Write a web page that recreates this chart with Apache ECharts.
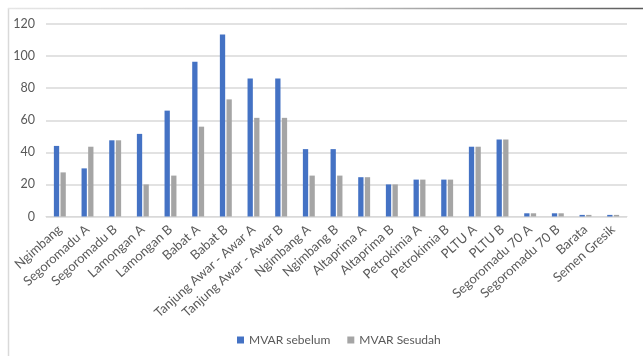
<!DOCTYPE html>
<html>
<head>
<meta charset="utf-8">
<script src="https://cdn.jsdelivr.net/npm/echarts@6/dist/echarts.min.js"></script>
<style>
  html, body { margin: 0; padding: 0; background: #ffffff; }
  #chart { width: 643px; height: 356px; }
</style>
</head>
<body>
<div id="chart"></div>
<script>
// Reactive power per substation, before and after compensation
const categories = [
  'Ngimbang', 'Segoromadu A', 'Segoromadu B', 'Lamongan A', 'Lamongan B',
  'Babat A', 'Babat B', 'Tanjung Awar - Awar A', 'Tanjung Awar - Awar B',
  'Ngimbang A', 'Ngimbang B', 'Altaprima A', 'Altaprima B', 'Petrokimia A',
  'Petrokimia B', 'PLTU A', 'PLTU B', 'Segoromadu 70 A', 'Segoromadu 70 B',
  'Barata', 'Semen Gresik'
];
const mvarSebelum = [44, 30, 47.5, 51.5, 66, 96.5, 113.5, 86, 86, 42, 42, 24.5, 20, 23, 23, 43.5, 48, 2, 2, 1, 1];
const mvarSesudah = [27.5, 43.5, 47.5, 20, 25.5, 56, 73, 61.5, 61.5, 25.5, 25.5, 24.5, 20, 23, 23, 43.5, 48, 2, 2, 1, 1];
const yTicks = [0, 20, 40, 60, 80, 100, 120];
const seriesNames = ['MVAR sebelum', 'MVAR Sesudah'];

const FONT = 'Lato, "Open Sans", sans-serif';
const chart = echarts.init(document.getElementById('chart'));

chart.setOption({
  animation: false,
  backgroundColor: '#ffffff',
  textStyle: { fontFamily: FONT },
  graphic: [
    // chart frame: left edge and shaded top edge
    {
      type: 'line', silent: true,
      shape: { x1: 8.5, y1: 8, x2: 8.5, y2: 356 },
      style: { stroke: '#d9d9d9', lineWidth: 1.5 }
    },
    {
      type: 'line', silent: true,
      shape: { x1: 8, y1: 8.5, x2: 643, y2: 8.5 },
      style: {
        lineWidth: 1.5,
        stroke: new echarts.graphic.LinearGradient(0, 0, 1, 0, [
          { offset: 0, color: '#e6e6e6' },
          { offset: 0.5, color: '#c8c8c8' },
          { offset: 1, color: '#5a5a5a' }
        ])
      }
    }
  ],
  grid: { left: 46, right: 16, top: 24, bottom: 139.5, containLabel: false },
  legend: {
    data: seriesNames,
    bottom: 5,
    left: 232,
    icon: 'rect',
    itemWidth: 7,
    itemHeight: 7,
    itemGap: 17,
    textStyle: { color: '#595959', fontSize: 12, fontFamily: FONT }
  },
  xAxis: {
    type: 'category',
    data: categories,
    axisLine: { lineStyle: { color: '#d9d9d9', width: 1 } },
    axisTick: { show: false },
    axisLabel: {
      interval: 0,
      rotate: 42,
      margin: 11,
      color: '#595959',
      fontSize: 13,
      fontFamily: FONT
    }
  },
  yAxis: {
    type: 'value',
    min: yTicks[0],
    max: yTicks[yTicks.length - 1],
    interval: 20,
    axisLine: { show: false },
    axisTick: { show: false },
    splitLine: { lineStyle: { color: '#d9d9d9', width: 1.5 } },
    axisLabel: { color: '#595959', fontSize: 12.5, margin: 11, fontFamily: FONT }
  },
  series: [
    {
      name: seriesNames[0],
      type: 'bar',
      data: mvarSebelum,
      barWidth: 5.3,
      barGap: '25%',
      itemStyle: { color: '#4472c4' }
    },
    {
      name: seriesNames[1],
      type: 'bar',
      data: mvarSesudah,
      barWidth: 5.3,
      barGap: '25%',
      itemStyle: { color: '#a5a5a5' }
    }
  ]
});
</script>
</body>
</html>
